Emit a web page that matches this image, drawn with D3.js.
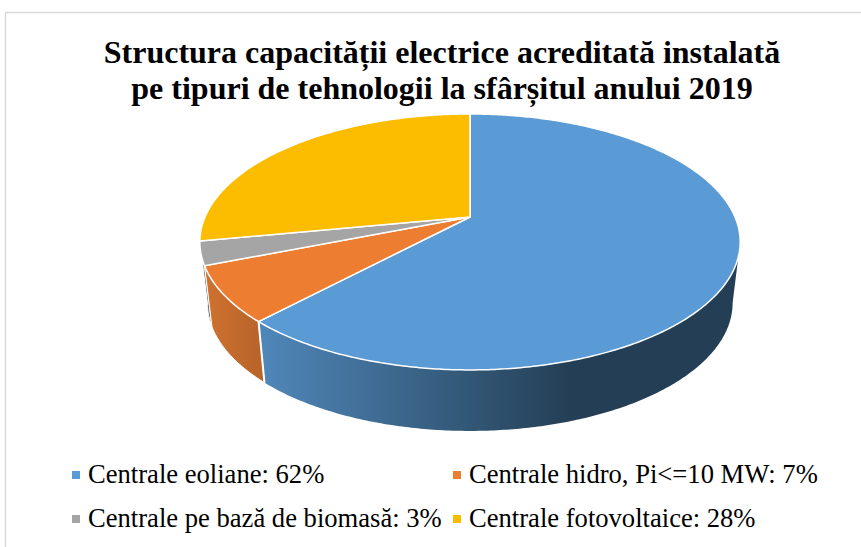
<!DOCTYPE html>
<html><head><meta charset="utf-8">
<script src="https://cdn.jsdelivr.net/npm/d3@7"></script>
<style>html,body{margin:0;padding:0;background:#fff}svg{display:block}text{font-family:"Liberation Serif",serif;fill:#000}</style>
</head><body><svg id="c" width="861" height="547"></svg>
<script>
const categories=["Centrale eoliane","Centrale hidro, Pi<=10 MW","Centrale pe bază de biomasă","Centrale fotovoltaice"];
const values=[62,7,3,28];
const colors=["#5b9bd5","#ed7d31","#a5a5a5","#fcbc00"];
const sideLeft=["#4f86b8","#cf7230","#8d8d8d","#d9a300"];
const sideRight=["#243f55","#b9642a","#6f6f6f","#a87f00"];
const titleLines=["Structura capacității electrice acreditată instalată","pe tipuri de tehnologii la sfârșitul anului 2019"];
const legendX=[72,453], legendY=[475,519];

const svg=d3.select("#c");
const cx=470,cy=217,A=265,B=123.1,k=0.195,depth=61,shrink=0.972;
const proj=(t)=>{const X=Math.sin(t),Y=Math.cos(t),w=1+k*Y;return [cx+A*X/w,cy-B*Y/w];};
const low=(t)=>{const [x,y]=proj(t);return [cx+(x-cx)*shrink,y+depth];};
const arcs=d3.pie().sort(null).value(d=>d)(values);
const line=d3.line();
const samples=(a,b)=>{const n=Math.max(2,Math.ceil((b-a)/0.01));return d3.range(n+1).map(i=>a+(b-a)*i/n);};

// frame
svg.append("path").attr("d",line([[861,12.5],[5.5,12.5],[5.5,547]])).attr("fill","none").attr("stroke","#d9d9d9").attr("stroke-width",1.5);

// gradients
const defs=svg.append("defs");
arcs.forEach((d,i)=>{
  const xs=samples(d.startAngle,d.endAngle).map(t=>proj(t)[0]);
  const g=defs.append("linearGradient").attr("id","g"+i).attr("gradientUnits","userSpaceOnUse")
    .attr("x1",i==0?265:d3.min(xs)).attr("x2",i==0?570:d3.max(xs)).attr("y1",0).attr("y2",0);
  g.append("stop").attr("offset",0).attr("stop-color",sideLeft[i]);
  g.append("stop").attr("offset",1).attr("stop-color",sideRight[i]);
});

// sides: visible rim runs between the ellipse's silhouette extremes
const rightEdge=Math.acos(-k), leftEdge=2*Math.PI-rightEdge;
const sideG=svg.append("g");
[2,0,1].forEach(i=>{
  const d=arcs[i];
  const a=Math.max(d.startAngle,rightEdge),b=Math.min(d.endAngle,leftEdge);
  if(b<=a)return;
  const ts=samples(a,b);
  const pts=ts.map(t=>proj(t)).concat(ts.slice().reverse().map(t=>low(t)));
  sideG.append("path").attr("d",line(pts)+"Z").attr("fill",`url(#g${i})`).attr("stroke",i==0?"none":"#fff").attr("stroke-width",1);
});
{const t=arcs[0].endAngle;sideG.append("path").attr("d",line([proj(t),low(t)])).attr("stroke","#fff").attr("stroke-width",2);}

// top face
const topG=svg.append("g");
arcs.forEach((d,i)=>{
  const pts=[[cx,cy]].concat(samples(d.startAngle,d.endAngle).map(t=>proj(t)));
  topG.append("path").attr("d",line(pts)+"Z").attr("fill",colors[i]).attr("stroke","#fff").attr("stroke-width",1.5).attr("stroke-linejoin","round");
});

// title
svg.append("g").selectAll("text").data(titleLines).join("text")
 .attr("x",442).attr("y",(d,i)=>63+i*35.5).attr("text-anchor","middle")
 .attr("font-size",32).attr("font-weight","bold").text(d=>d);

// legend
const lg=svg.append("g").selectAll("g").data(categories).join("g")
 .attr("transform",(d,i)=>`translate(${legendX[i%2]},${legendY[i>>1]})`);
lg.append("rect").attr("x",0).attr("y",-4).attr("width",8).attr("height",8).attr("fill",(d,i)=>colors[i]);
lg.append("text").attr("x",16).attr("y",8).attr("font-size",26.6).text((d,i)=>`${d}: ${values[i]}%`);
</script></body></html>
